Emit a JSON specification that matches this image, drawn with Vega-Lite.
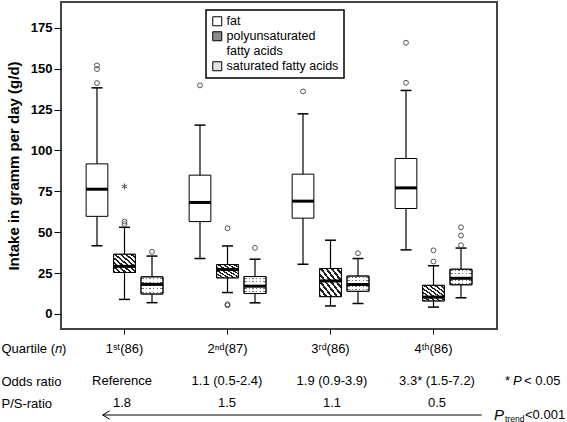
{
  "$schema": "https://vega.github.io/schema/vega-lite/v6.json",
  "padding": {"left": 0, "top": 1, "right": 0, "bottom": 0},
  "autosize": {"type": "pad"},
  "spacing": 14,
  "config": {
    "font": "Liberation Sans",
    "view": {"stroke": null},
    "axis": {"labelColor": "black", "titleColor": "black", "tickColor": "black", "grid": false, "labelFont": "Liberation Sans", "titleFont": "Liberation Sans"},
    "legend": {
      "orient": "none", "legendX": 145, "legendY": 8, "title": null,
      "strokeColor": "black", "strokeWidth": 1.5, "fillColor": "white", "padding": 5,
      "symbolType": "square", "symbolSize": 81, "symbolStrokeColor": "black", "symbolStrokeWidth": 1,
      "labelFontSize": 12.5, "labelColor": "black", "labelOffset": 3, "rowPadding": 1,
      "labelFont": "Liberation Sans"
    }
  },
  "datasets": {
    "boxes": [
      {"quartile": "1ˢᵗ(86)", "series": "fat", "lower": 41.7, "q1": 59.7, "median": 76.3, "q3": 91.8, "upper": 138.3},
      {"quartile": "1ˢᵗ(86)", "series": "polyunsaturated fatty acids", "lower": 8.9, "q1": 25.4, "median": 29.1, "q3": 36.5, "upper": 53},
      {"quartile": "1ˢᵗ(86)", "series": "saturated fatty acids", "lower": 6.9, "q1": 12.3, "median": 18.1, "q3": 22.6, "upper": 35.4},
      {"quartile": "2ⁿᵈ(87)", "series": "fat", "lower": 33.9, "q1": 56.5, "median": 68.2, "q3": 84.9, "upper": 115.5},
      {"quartile": "2ⁿᵈ(87)", "series": "polyunsaturated fatty acids", "lower": 13.1, "q1": 22.1, "median": 27.2, "q3": 30.2, "upper": 41.6},
      {"quartile": "2ⁿᵈ(87)", "series": "saturated fatty acids", "lower": 6.8, "q1": 12.5, "median": 17, "q3": 22.9, "upper": 33.5},
      {"quartile": "3ʳᵈ(86)", "series": "fat", "lower": 30.4, "q1": 58.6, "median": 69, "q3": 85.5, "upper": 122.4},
      {"quartile": "3ʳᵈ(86)", "series": "polyunsaturated fatty acids", "lower": 4.9, "q1": 10.6, "median": 20.2, "q3": 27.8, "upper": 45.1},
      {"quartile": "3ʳᵈ(86)", "series": "saturated fatty acids", "lower": 6.4, "q1": 13.9, "median": 18, "q3": 23.1, "upper": 33.9},
      {"quartile": "4ᵗʰ(86)", "series": "fat", "lower": 39.2, "q1": 64.5, "median": 77.1, "q3": 95.1, "upper": 136.7},
      {"quartile": "4ᵗʰ(86)", "series": "polyunsaturated fatty acids", "lower": 4.2, "q1": 8, "median": 10.3, "q3": 17.5, "upper": 29.5},
      {"quartile": "4ᵗʰ(86)", "series": "saturated fatty acids", "lower": 9.9, "q1": 17.9, "median": 21.8, "q3": 27.3, "upper": 40.3}
    ],
    "outliers": [
      {"quartile": "1ˢᵗ(86)", "series": "fat", "value": 141.2, "type": "outlier"},
      {"quartile": "1ˢᵗ(86)", "series": "fat", "value": 149.8, "type": "outlier"},
      {"quartile": "1ˢᵗ(86)", "series": "fat", "value": 152, "type": "outlier"},
      {"quartile": "1ˢᵗ(86)", "series": "polyunsaturated fatty acids", "value": 55, "type": "outlier"},
      {"quartile": "1ˢᵗ(86)", "series": "polyunsaturated fatty acids", "value": 56.5, "type": "outlier"},
      {"quartile": "1ˢᵗ(86)", "series": "polyunsaturated fatty acids", "value": 78, "type": "extreme"},
      {"quartile": "1ˢᵗ(86)", "series": "saturated fatty acids", "value": 38, "type": "outlier"},
      {"quartile": "2ⁿᵈ(87)", "series": "fat", "value": 139.8, "type": "outlier"},
      {"quartile": "2ⁿᵈ(87)", "series": "polyunsaturated fatty acids", "value": 52.4, "type": "outlier"},
      {"quartile": "2ⁿᵈ(87)", "series": "polyunsaturated fatty acids", "value": 5.3, "type": "outlier"},
      {"quartile": "2ⁿᵈ(87)", "series": "polyunsaturated fatty acids", "value": 5.9, "type": "outlier"},
      {"quartile": "2ⁿᵈ(87)", "series": "saturated fatty acids", "value": 40.4, "type": "outlier"},
      {"quartile": "3ʳᵈ(86)", "series": "fat", "value": 136.1, "type": "outlier"},
      {"quartile": "3ʳᵈ(86)", "series": "saturated fatty acids", "value": 37.1, "type": "outlier"},
      {"quartile": "4ᵗʰ(86)", "series": "fat", "value": 141.4, "type": "outlier"},
      {"quartile": "4ᵗʰ(86)", "series": "fat", "value": 165.9, "type": "outlier"},
      {"quartile": "4ᵗʰ(86)", "series": "polyunsaturated fatty acids", "value": 32.1, "type": "outlier"},
      {"quartile": "4ᵗʰ(86)", "series": "polyunsaturated fatty acids", "value": 38.9, "type": "outlier"},
      {"quartile": "4ᵗʰ(86)", "series": "saturated fatty acids", "value": 42, "type": "outlier"},
      {"quartile": "4ᵗʰ(86)", "series": "saturated fatty acids", "value": 48, "type": "outlier"},
      {"quartile": "4ᵗʰ(86)", "series": "saturated fatty acids", "value": 53, "type": "outlier"}
    ],
    "table": [
      {"q": 1, "row": "Odds ratio", "text": "Reference"},
      {"q": 2, "row": "Odds ratio", "text": "1.1 (0.5-2.4)"},
      {"q": 3, "row": "Odds ratio", "text": "1.9 (0.9-3.9)"},
      {"q": 4, "row": "Odds ratio", "text": "3.3* (1.5-7.2)"},
      {"q": 1, "row": "P/S-ratio", "text": "1.8"},
      {"q": 2, "row": "P/S-ratio", "text": "1.5"},
      {"q": 3, "row": "P/S-ratio", "text": "1.1"},
      {"q": 4, "row": "P/S-ratio", "text": "0.5"}
    ]
  },
  "resolve": {"scale": {"x": "independent", "y": "independent"}},
  "vconcat": [
    {
      "width": 436,
      "height": 327,
      "view": {"stroke": "#444", "strokeWidth": 2},
      "encoding": {
        "x": {
          "field": "quartile", "type": "nominal",
          "scale": {"domain": ["1ˢᵗ(86)", "2ⁿᵈ(87)", "3ʳᵈ(86)", "4ᵗʰ(86)"], "paddingInner": 0, "paddingOuter": 0.1165},
          "axis": {
            "title": "Quartile (𝑛)", "titleX": -60, "titleY": 19, "titleAlign": "left", "titleBaseline": "middle",
            "titleFontWeight": "normal", "titleFontSize": 13,
            "labelFontSize": 13, "labelPadding": 8, "labelAngle": 0, "tickSize": 5, "domain": false
          }
        },
        "xOffset": {
          "field": "series", "type": "nominal",
          "scale": {"domain": ["fat", "polyunsaturated fatty acids", "saturated fatty acids"], "paddingInner": 0.211, "paddingOuter": 0.478}
        }
      },
      "layer": [
        {
          "data": {"name": "boxes"},
          "mark": {"type": "rule", "color": "black", "strokeWidth": 1.2},
          "encoding": {
            "y": {
              "field": "lower", "type": "quantitative",
              "scale": {"domain": [-9.2, 190.8], "nice": false, "zero": false},
              "title": "Intake in gramm per day (g/d)",
              "axis": {
                "values": [0, 25, 50, 75, 100, 125, 150, 175], "domain": false, "tickSize": 7, "labelPadding": 2,
                "labelFontSize": 13, "labelFontWeight": "bold", "titleFontSize": 15, "titleFontWeight": "bold", "titlePadding": 9
              }
            },
            "y2": {"field": "upper"}
          }
        },
        {
          "data": {"name": "boxes"},
          "mark": {"type": "tick", "color": "black", "opacity": 1, "size": 11, "thickness": 1.5},
          "encoding": {"y": {"field": "lower", "type": "quantitative"}}
        },
        {
          "data": {"name": "boxes"},
          "mark": {"type": "tick", "color": "black", "opacity": 1, "size": 11, "thickness": 1.5},
          "encoding": {"y": {"field": "upper", "type": "quantitative"}}
        },
        {
          "data": {"name": "boxes"},
          "mark": {"type": "bar", "stroke": "black", "strokeWidth": 1},
          "encoding": {
            "y": {"field": "q1", "type": "quantitative"},
            "y2": {"field": "q3"},
            "fill": {
              "field": "series", "type": "nominal",
              "scale": {
                "domain": ["fat", "polyunsaturated fatty acids", "saturated fatty acids"],
                "range": ["white", "#8c8c8c", "#e2e2e2"]
              },
              "legend": {"labelExpr": "datum.label == 'polyunsaturated fatty acids' ? ['polyunsaturated', 'fatty acids'] : datum.label"}
            }
          }
        },
        {
          "data": {"name": "boxes"},
          "transform": [{"filter": "datum.series == 'polyunsaturated fatty acids'"}],
          "mark": {
            "type": "bar", "stroke": "black", "strokeWidth": 1,
            "fill": {"gradient": "linear", "x1": 0, "y1": 1, "x2": 1, "y2": 0, "stops": [
              {"offset": 0, "color": "#222"}, {"offset": 0.055, "color": "#222"}, {"offset": 0.055, "color": "#fff"}, {"offset": 0.125, "color": "#fff"},
              {"offset": 0.125, "color": "#222"}, {"offset": 0.18, "color": "#222"}, {"offset": 0.18, "color": "#fff"}, {"offset": 0.25, "color": "#fff"},
              {"offset": 0.25, "color": "#222"}, {"offset": 0.305, "color": "#222"}, {"offset": 0.305, "color": "#fff"}, {"offset": 0.375, "color": "#fff"},
              {"offset": 0.375, "color": "#222"}, {"offset": 0.43, "color": "#222"}, {"offset": 0.43, "color": "#fff"}, {"offset": 0.5, "color": "#fff"},
              {"offset": 0.5, "color": "#222"}, {"offset": 0.555, "color": "#222"}, {"offset": 0.555, "color": "#fff"}, {"offset": 0.625, "color": "#fff"},
              {"offset": 0.625, "color": "#222"}, {"offset": 0.68, "color": "#222"}, {"offset": 0.68, "color": "#fff"}, {"offset": 0.75, "color": "#fff"},
              {"offset": 0.75, "color": "#222"}, {"offset": 0.805, "color": "#222"}, {"offset": 0.805, "color": "#fff"}, {"offset": 0.875, "color": "#fff"},
              {"offset": 0.875, "color": "#222"}, {"offset": 0.93, "color": "#222"}, {"offset": 0.93, "color": "#fff"}, {"offset": 1, "color": "#fff"}
            ]}
          },
          "encoding": {
            "y": {"field": "q1", "type": "quantitative"},
            "y2": {"field": "q3"}
          }
        },
        {
          "data": {"name": "boxes"},
          "transform": [{"filter": "datum.series == 'saturated fatty acids'"}],
          "mark": {
            "type": "bar", "stroke": "black", "strokeWidth": 1,
            "fill": {"gradient": "linear", "x1": 0, "y1": 0, "x2": 1, "y2": 0, "stops": [
              {"offset": 0, "color": "#fff"},
              {"offset": 0.05, "color": "#fff"}, {"offset": 0.05, "color": "#777"}, {"offset": 0.11, "color": "#777"}, {"offset": 0.11, "color": "#fff"},
              {"offset": 0.2167, "color": "#fff"}, {"offset": 0.2167, "color": "#777"}, {"offset": 0.2767, "color": "#777"}, {"offset": 0.2767, "color": "#fff"},
              {"offset": 0.3833, "color": "#fff"}, {"offset": 0.3833, "color": "#777"}, {"offset": 0.4433, "color": "#777"}, {"offset": 0.4433, "color": "#fff"},
              {"offset": 0.55, "color": "#fff"}, {"offset": 0.55, "color": "#777"}, {"offset": 0.61, "color": "#777"}, {"offset": 0.61, "color": "#fff"},
              {"offset": 0.7167, "color": "#fff"}, {"offset": 0.7167, "color": "#777"}, {"offset": 0.7767, "color": "#777"}, {"offset": 0.7767, "color": "#fff"},
              {"offset": 0.8833, "color": "#fff"}, {"offset": 0.8833, "color": "#777"}, {"offset": 0.9433, "color": "#777"}, {"offset": 0.9433, "color": "#fff"},
              {"offset": 1, "color": "#fff"}
            ]}
          },
          "encoding": {
            "y": {"field": "q1", "type": "quantitative"},
            "y2": {"field": "q3"}
          }
        },
        {
          "data": {"name": "boxes"},
          "transform": [{"filter": "datum.series == 'saturated fatty acids'"}],
          "mark": {
            "type": "bar", "stroke": "black", "strokeWidth": 1,
            "fill": {"gradient": "linear", "x1": 0, "y1": 0, "x2": 0, "y2": 1, "stops": [
              {"offset": 0, "color": "#fff"},
              {"offset": 0.07, "color": "#fff"}, {"offset": 0.07, "color": "rgba(255,255,255,0)"}, {"offset": 0.13, "color": "rgba(255,255,255,0)"}, {"offset": 0.13, "color": "#fff"},
              {"offset": 0.27, "color": "#fff"}, {"offset": 0.27, "color": "rgba(255,255,255,0)"}, {"offset": 0.33, "color": "rgba(255,255,255,0)"}, {"offset": 0.33, "color": "#fff"},
              {"offset": 0.47, "color": "#fff"}, {"offset": 0.47, "color": "rgba(255,255,255,0)"}, {"offset": 0.53, "color": "rgba(255,255,255,0)"}, {"offset": 0.53, "color": "#fff"},
              {"offset": 0.67, "color": "#fff"}, {"offset": 0.67, "color": "rgba(255,255,255,0)"}, {"offset": 0.73, "color": "rgba(255,255,255,0)"}, {"offset": 0.73, "color": "#fff"},
              {"offset": 0.87, "color": "#fff"}, {"offset": 0.87, "color": "rgba(255,255,255,0)"}, {"offset": 0.93, "color": "rgba(255,255,255,0)"}, {"offset": 0.93, "color": "#fff"},
              {"offset": 1, "color": "#fff"}
            ]}
          },
          "encoding": {
            "y": {"field": "q1", "type": "quantitative"},
            "y2": {"field": "q3"}
          }
        },
        {
          "data": {"name": "boxes"},
          "mark": {"type": "tick", "color": "black", "opacity": 1, "size": 21.7, "thickness": 3},
          "encoding": {"y": {"field": "median", "type": "quantitative"}}
        },
        {
          "data": {"name": "outliers"},
          "mark": {"type": "point", "filled": false, "stroke": "#555", "strokeWidth": 1, "opacity": 1},
          "encoding": {
            "y": {"field": "value", "type": "quantitative"},
            "shape": {"field": "type", "type": "nominal", "scale": {"domain": ["outlier", "extreme"], "range": ["circle", "M0,-1L0,1M-0.87,-0.5L0.87,0.5M-0.87,0.5L0.87,-0.5"]}, "legend": null},
            "size": {"field": "type", "type": "nominal", "scale": {"domain": ["outlier", "extreme"], "range": [24, 36]}, "legend": null}
          }
        }
      ]
    },
    {
      "width": 436,
      "height": 44,
      "view": {"stroke": null},
      "encoding": {
        "y": {
          "field": "row", "type": "nominal",
          "scale": {"type": "point", "domain": ["Odds ratio", "P/S-ratio"], "padding": 0.5},
          "title": null,
          "axis": {"domain": false, "ticks": false, "tickSize": 0, "labelAlign": "left", "labelPadding": 60, "labelFontSize": 13}
        }
      },
      "layer": [
        {
          "data": {"name": "table"},
          "mark": {"type": "text", "fontSize": 13, "color": "black"},
          "encoding": {
            "x": {"field": "q", "type": "quantitative", "scale": {"domain": [0.419, 4.5714], "nice": false, "zero": false}, "axis": null},
            "text": {"field": "text"}
          }
        },
        {
          "data": {"values": [{"t": "*"}]},
          "mark": {"type": "text", "fontSize": 13, "color": "black", "align": "left"},
          "encoding": {"x": {"datum": 4.6476}, "y": {"datum": "Odds ratio", "type": "nominal"}, "text": {"field": "t"}}
        },
        {
          "data": {"values": [{"t": "P"}]},
          "mark": {"type": "text", "fontSize": 13, "color": "black", "align": "left", "fontStyle": "italic", "dx": 8},
          "encoding": {"x": {"datum": 4.6476}, "y": {"datum": "Odds ratio", "type": "nominal"}, "text": {"field": "t"}}
        },
        {
          "data": {"values": [{"t": "< 0.05"}]},
          "mark": {"type": "text", "fontSize": 13, "color": "black", "align": "left", "dx": 19},
          "encoding": {"x": {"datum": 4.6476}, "y": {"datum": "Odds ratio", "type": "nominal"}, "text": {"field": "t"}}
        },
        {
          "data": {"values": [{"t": "P"}]},
          "mark": {"type": "text", "fontSize": 15, "color": "black", "align": "left", "fontStyle": "italic", "dy": 12},
          "encoding": {"x": {"datum": 4.5429}, "y": {"datum": "P/S-ratio", "type": "nominal"}, "text": {"field": "t"}}
        },
        {
          "data": {"values": [{"t": "trend"}]},
          "mark": {"type": "text", "fontSize": 8.5, "color": "black", "align": "left", "dx": 11, "dy": 15.5},
          "encoding": {"x": {"datum": 4.5429}, "y": {"datum": "P/S-ratio", "type": "nominal"}, "text": {"field": "t"}}
        },
        {
          "data": {"values": [{"t": "<0.001"}]},
          "mark": {"type": "text", "fontSize": 13, "color": "black", "align": "left", "dx": 31, "dy": 12},
          "encoding": {"x": {"datum": 4.5429}, "y": {"datum": "P/S-ratio", "type": "nominal"}, "text": {"field": "t"}}
        },
        {
          "data": {"values": [{"from": 0.8161, "to": 4.4257}]},
          "mark": {"type": "rule", "color": "black", "strokeWidth": 1, "yOffset": 12},
          "encoding": {"x": {"field": "from", "type": "quantitative"}, "x2": {"field": "to"}, "y": {"datum": "P/S-ratio", "type": "nominal"}}
        },
        {
          "data": {"values": [{"from": 0.8161}]},
          "mark": {"type": "point", "shape": "M2,-1.2L0,0L2,1.2", "filled": false, "stroke": "black", "strokeWidth": 1, "size": 49, "yOffset": 12, "opacity": 1},
          "encoding": {"x": {"field": "from", "type": "quantitative"}, "y": {"datum": "P/S-ratio", "type": "nominal"}}
        }
      ]
    }
  ]
}
